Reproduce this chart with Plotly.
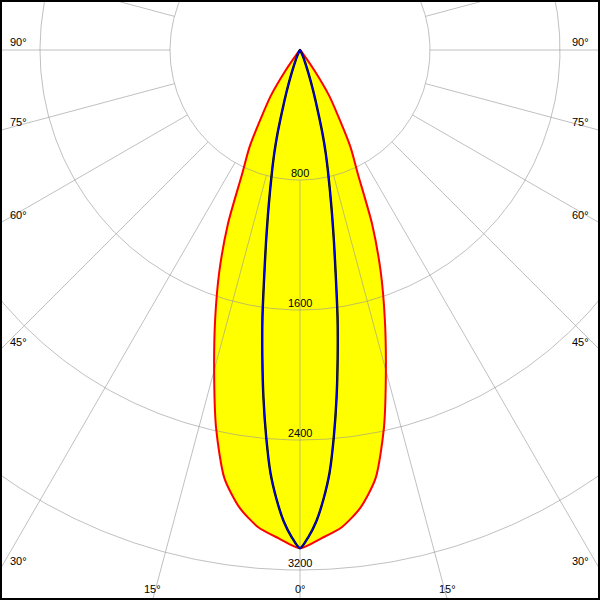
import numpy as np
import plotly.graph_objects as go

# ---- data ----
# C0/C180 plane (red, filled yellow): gamma in degrees, intensity in cd
gamma_red = [0, 2.5, 5, 7.5, 10, 12.5, 15, 17.5, 20, 22.5, 25, 27.5, 30, 32.5, 35, 37.5, 40, 45]
int_red = [3066, 3008, 2948, 2842, 2677, 2385, 2042, 1736, 1452, 1160, 845, 672, 470, 335, 160, 40, 10, 0]

# C90/C270 plane (blue)
gamma_blue = [0, 1, 2, 3, 4, 5, 6, 7, 8, 9, 10, 11, 12, 13, 14, 15, 16, 17, 18, 20, 22.5, 25, 30, 35]
int_blue = [3066, 2996, 2900, 2767, 2608, 2389, 2152, 1902, 1660, 1407, 1206, 1035, 888, 764, 654, 540, 420, 330, 260, 150, 80, 40, 10, 0]

ring_values = [800, 1600, 2400, 3200, 4000]
ring_labels = ["800", "1600", "2400", "3200"]
angle_ticks = [0, 15, 30, 45, 60, 75, 90]
spoke_step = 15

# ---- geometry helpers ----
S = 800 / 130.0          # cd per pixel
XMAX = 300 * S
YMIN = -550 * S
YMAX = 50 * S


def mirrored(gammas, vals):
    g = np.array(gammas, float)
    v = np.array(vals, float)
    g_full = np.concatenate([-g[::-1], g[1:]])
    v_full = np.concatenate([v[::-1], v[1:]])
    rad = np.radians(g_full)
    return v_full * np.sin(rad), -v_full * np.cos(rad)


xr, yr = mirrored(gamma_red, int_red)
xb, yb = mirrored(gamma_blue, int_blue)

SM = 0.7
fig = go.Figure()

# yellow fill
fig.add_trace(go.Scatter(x=xr, y=yr, fill="toself", fillcolor="#ffff00",
                         line=dict(color="rgba(0,0,0,0)", width=0, shape="spline", smoothing=SM),
                         mode="lines", hoverinfo="skip", showlegend=False))

# grid: rings
gx, gy = [], []
th = np.linspace(0, 2 * np.pi, 721)
for r in ring_values:
    gx += list(r * np.sin(th)) + [None]
    gy += list(-r * np.cos(th)) + [None]
# grid: spokes from the first ring outward
for a in range(0, 360, spoke_step):
    ra = np.radians(a)
    gx += [ring_values[0] * np.sin(ra), 5000 * np.sin(ra), None]
    gy += [-ring_values[0] * np.cos(ra), -5000 * np.cos(ra), None]
fig.add_trace(go.Scatter(x=gx, y=gy, mode="lines",
                         line=dict(color="rgba(150,150,150,0.6)", width=1),
                         hoverinfo="skip", showlegend=False))

# curves
fig.add_trace(go.Scatter(x=xr, y=yr, mode="lines",
                         line=dict(color="#ff0000", width=2, shape="spline", smoothing=SM),
                         hoverinfo="skip", showlegend=False))
fig.add_trace(go.Scatter(x=xb, y=yb, mode="lines",
                         line=dict(color="#000000", width=2.4, shape="spline", smoothing=SM),
                         hoverinfo="skip", showlegend=False))
fig.add_trace(go.Scatter(x=xb, y=yb, mode="lines",
                         line=dict(color="#0000ff", width=1.3, shape="spline", smoothing=SM),
                         hoverinfo="skip", showlegend=False))

font = dict(family="Liberation Sans, Arial, sans-serif", size=11, color="black")
annotations = []
# ring labels
for r, lab in zip(ring_values, ring_labels):
    annotations.append(dict(x=0, y=-r, text=lab, showarrow=False, xanchor="center",
                            yanchor="bottom", yshift=-1, font=font))


# angle labels at frame edges
def edge_hit(g, side):
    rad = np.radians(g)
    dx, dy = side * np.sin(rad), -np.cos(rad)
    ts = []
    if abs(dx) > 1e-9:
        ts.append(("x", XMAX / abs(dx)))
    if dy < -1e-9:
        ts.append(("y", YMIN / dy))
    kind, t = min(ts, key=lambda k: k[1])
    return kind, t * dx, t * dy


for g in angle_ticks:
    sides = [1] if g == 0 else [-1, 1]
    for side in sides:
        kind, x, y = edge_hit(g, side)
        if kind == "x":
            xs = 18 if side < 0 else -19.5
            ys = 8.5
        else:
            xs = 0
            ys = 11
        annotations.append(dict(x=x, y=y, text=f"{g}°", showarrow=False,
                                xanchor="center", yanchor="middle",
                                xshift=xs, yshift=ys, font=font))

fig.update_layout(
    width=600, height=600,
    margin=dict(l=0, r=0, t=0, b=0, pad=0),
    paper_bgcolor="white", plot_bgcolor="white",
    xaxis=dict(range=[-XMAX, XMAX], visible=False, showgrid=False, zeroline=False,
               fixedrange=True),
    yaxis=dict(range=[YMIN, YMAX], visible=False, showgrid=False, zeroline=False,
               fixedrange=True),
    annotations=annotations,
    shapes=[dict(type="rect", xref="paper", yref="paper", x0=0, y0=0, x1=1, y1=1,
                 line=dict(color="black", width=4), layer="above")],
    showlegend=False,
)

fig.write_html("out.html", config={"displayModeBar": False},
               post_script="document.body.style.margin='0';document.body.style.overflow='hidden';")
